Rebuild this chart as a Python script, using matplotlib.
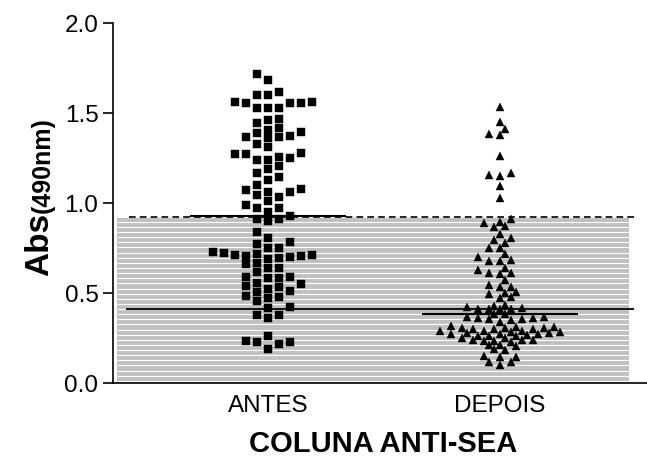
import numpy as np
import matplotlib
matplotlib.use('Agg')
import matplotlib.pyplot as plt
from matplotlib.patches import Rectangle

plt.rcParams['font.family'] = ['Liberation Sans', 'DejaVu Sans']

categories = ['ANTES', 'DEPOIS']
antes = [1.717, 1.683, 1.602, 1.615, 1.602, 1.563, 1.526, 1.557, 1.553, 1.557,
         1.526, 1.563, 1.526, 1.463, 1.465, 1.443, 1.418, 1.387, 1.368, 1.359,
         1.396, 1.406, 1.370, 1.368, 1.328, 1.313, 1.272, 1.257, 1.272, 1.239,
         1.276, 1.248, 1.239, 1.206, 1.165, 1.189, 1.128, 1.146, 1.100, 1.072,
         1.032, 1.059, 1.044, 1.059, 1.076, 1.013, 0.989,
         0.970, 0.970, 0.952, 0.929, 0.911, 0.900, 0.911, 0.841, 0.804, 0.782,
         0.752, 0.770, 0.748, 0.711, 0.711, 0.702, 0.726, 0.689, 0.720, 0.693,
         0.707, 0.707, 0.717, 0.637, 0.659, 0.665, 0.618, 0.641, 0.581, 0.591,
         0.591, 0.581, 0.554, 0.541, 0.522, 0.531, 0.548, 0.504, 0.511, 0.485,
         0.474, 0.456, 0.480, 0.424, 0.419, 0.378, 0.363, 0.378, 0.263, 0.233,
         0.226, 0.215, 0.226, 0.189]
depois = [1.535, 1.452, 1.409, 1.378, 1.383, 1.261, 1.150, 1.165, 1.156, 1.094,
          1.026,
          0.893, 0.872, 0.869, 0.887, 0.911, 0.828, 0.804, 0.780, 0.794, 0.752,
          0.752, 0.717, 0.698, 0.678, 0.678, 0.683, 0.641, 0.613, 0.604, 0.609,
          0.628, 0.572, 0.535, 0.507, 0.493, 0.502, 0.531, 0.544, 0.474, 0.480,
          0.415, 0.409, 0.409, 0.383, 0.430, 0.424, 0.433, 0.369, 0.359, 0.363,
          0.369, 0.383, 0.411, 0.411, 0.354, 0.341, 0.350, 0.356, 0.313, 0.307,
          0.304, 0.300, 0.300, 0.300, 0.307, 0.313, 0.318, 0.291, 0.291, 0.281,
          0.276, 0.272, 0.276, 0.285, 0.291, 0.270, 0.267, 0.263, 0.263, 0.263,
          0.270, 0.252, 0.226, 0.239, 0.211, 0.235, 0.235, 0.239, 0.239, 0.211,
          0.248, 0.189, 0.185, 0.204, 0.146, 0.146, 0.152, 0.118, 0.118, 0.100]
cutoff_dashed = 0.925
cutoff_solid = 0.409
gray_top = 0.917
yticks = [0.0, 0.5, 1.0, 1.5, 2.0]


def swarm(values, col, h, step):
    """Greedy column swarm: offsets in units of `step` columns."""
    values = np.asarray(values)
    order = np.argsort(values, kind='stable')
    placed = []
    offs = np.zeros(len(values))
    toggle = 1

    def clash(c, v):
        for pc, pv in placed:
            dx = abs(pc - c)
            if dx < 0.99 and abs(pv - v) < h * (1 - dx):
                return True
        return False

    for i in order:
        v = values[i]
        k = 0
        chosen = None
        while chosen is None:
            cands = [0.0] if k == 0 else [toggle * k * step, -toggle * k * step]
            for c in cands:
                if not clash(c, v):
                    chosen = c
                    break
            k += 1
        if chosen != 0:
            toggle = -toggle
        placed.append((chosen, v))
        offs[i] = chosen * col
    return offs


fig = plt.figure(figsize=(6.47, 4.58), dpi=100)
ax = fig.add_axes([113 / 647, 75 / 458, 534 / 647, 360 / 458])
ax.set_xlim(0.332, 2.634)
ax.set_ylim(0, 2.0)

# shaded region with white stripes
ax.add_patch(Rectangle((0.349, 0), 2.556 - 0.349, gray_top, facecolor='#c0c0c0',
                       edgecolor='none', zorder=1))
for yy in np.arange(0.012, gray_top, 0.0285):
    ax.hlines(yy, 0.349, 2.556, colors='white', lw=0.8, zorder=1.5)

ax.hlines(cutoff_dashed, 0.401, 2.58, colors='black', linestyles=(0, (4, 2.5)),
          lw=1.2, zorder=3)
ax.hlines(cutoff_solid, 0.387, 2.58, colors='black', lw=1.3, zorder=3)

xpos = [1, 2]
markers = ['s', '^']
msizes = [5.8, 6.4]
gaps = [0.046, 0.042]
steps = [1.0, 0.5]
for x, vals, m, ms, g, st in zip(xpos, [antes, depois], markers, msizes, gaps, steps):
    offs = swarm(vals, 0.047, g, st)
    ax.plot(x + offs, vals, m, ms=ms, color='black', mec='black', mew=0.3,
            ls='none', zorder=4)
    ax.hlines(np.median(vals), x - 0.335, x + 0.335, colors='black', lw=1.5, zorder=5)

for s in ['top', 'right']:
    ax.spines[s].set_visible(False)
ax.spines['left'].set_linewidth(1.2)
ax.spines['bottom'].set_linewidth(1.2)
ax.spines['left'].set_bounds(0, 2.0)

ax.set_yticks(yticks)
ax.set_yticklabels([f'{t:.1f}' for t in yticks])
ax.set_xticks(xpos)
ax.set_xticklabels(categories)
ax.tick_params(axis='y', direction='out', length=7, width=1.2, pad=3.5, labelsize=17.5)
ax.tick_params(axis='x', length=0, pad=9, labelsize=17.5)

fig.text(383 / 647, 6 / 458, 'COLUNA ANTI-SEA', ha='center', va='baseline',
         fontsize=21, fontweight='bold')
fig.text(48 / 647, (458 - 276) / 458, 'Abs', rotation=90, rotation_mode='anchor',
         ha='left', va='baseline', fontsize=24, fontweight='bold')
fig.text(50 / 647, (458 - 213) / 458, '(490nm)', rotation=90, rotation_mode='anchor',
         ha='left', va='baseline', fontsize=18, fontweight='bold')

fig.savefig('out.png', dpi=100)
